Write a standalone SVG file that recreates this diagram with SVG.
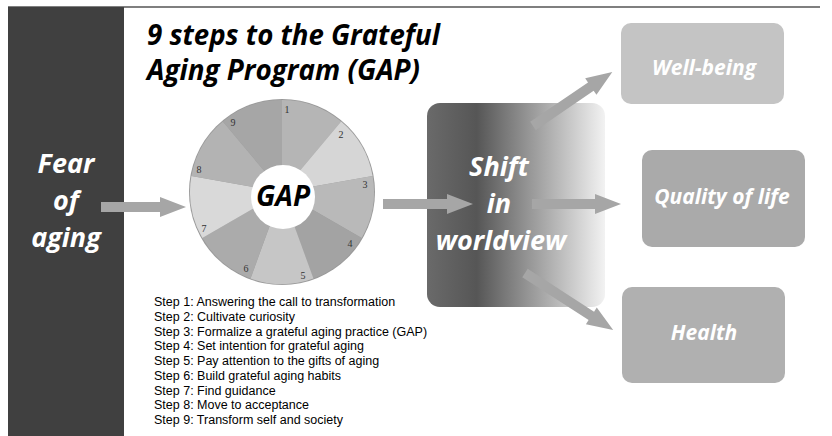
<svg xmlns="http://www.w3.org/2000/svg" width="832" height="436" viewBox="0 0 832 436">
<defs>
<linearGradient id="shiftGrad" x1="0" y1="0" x2="1" y2="0">
<stop offset="0" stop-color="#6a6a6a"/>
<stop offset="0.28" stop-color="#565656"/>
<stop offset="0.6" stop-color="#9c9c9c"/>
<stop offset="1" stop-color="#f2f2f2"/>
</linearGradient>
<style>
.big{font-family:"Open Sans","Liberation Sans",sans-serif;font-weight:bold;font-style:italic;fill:#fff;text-anchor:middle}
.title{font-family:"Open Sans","Liberation Sans",sans-serif;font-weight:bold;font-style:italic;fill:#000;font-size:28px}
.num{font-family:"Liberation Serif",serif;font-size:10px;fill:#333;text-anchor:middle}
.step{font-family:"Liberation Sans",Arial,sans-serif;font-size:12.5px;fill:#000}
.arrow{fill:#a6a6a6}
</style>
</defs>
<rect width="832" height="436" fill="#fff"/>
<line x1="8" y1="7" x2="820" y2="7" stroke="#555" stroke-width="1.5"/>

<g id="fear">
<rect x="8" y="7" width="116" height="429" fill="#404040"/>
<text class="big" font-size="27" x="66" y="173">Fear</text>
<text class="big" font-size="27" x="66" y="210">of</text>
<text class="big" font-size="27" x="66" y="247">aging</text>
</g>

<g id="title">
<text class="title" x="147" y="45" textLength="293" lengthAdjust="spacingAndGlyphs">9 steps to the Grateful</text>
<text class="title" x="147" y="80" textLength="273" lengthAdjust="spacingAndGlyphs">Aging Program (GAP)</text>
</g>

<g id="gap">
<circle cx="282" cy="192" r="93" fill="#999"/>
<path d="M282,192 L282,100 A92,92 0 0 1 341.14,121.53 Z" fill="#b5b5b5"/>
<path d="M282,192 L341.14,121.53 A92,92 0 0 1 372.6,176.03 Z" fill="#d6d6d6"/>
<path d="M282,192 L372.6,176.03 A92,92 0 0 1 361.67,238 Z" fill="#b9b9b9"/>
<path d="M282,192 L361.67,238 A92,92 0 0 1 313.47,278.45 Z" fill="#a3a3a3"/>
<path d="M282,192 L313.47,278.45 A92,92 0 0 1 250.53,278.45 Z" fill="#c6c6c6"/>
<path d="M282,192 L250.53,278.45 A92,92 0 0 1 202.33,238 Z" fill="#ababab"/>
<path d="M282,192 L202.33,238 A92,92 0 0 1 191.4,176.03 Z" fill="#d9d9d9"/>
<path d="M282,192 L191.4,176.03 A92,92 0 0 1 222.86,121.53 Z" fill="#b3b3b3"/>
<path d="M282,192 L222.86,121.53 A92,92 0 0 1 282,100 Z" fill="#a6a6a6"/>
<circle cx="283" cy="197" r="32" fill="#fff"/>
<text class="big" font-size="28" x="283" y="206" style="fill:#000">GAP</text>
<text class="num" x="287" y="113">1</text>
<text class="num" x="341" y="138">2</text>
<text class="num" x="365" y="188">3</text>
<text class="num" x="350" y="247">4</text>
<text class="num" x="303" y="279">5</text>
<text class="num" x="246" y="272">6</text>
<text class="num" x="204" y="232">7</text>
<text class="num" x="199" y="173">8</text>
<text class="num" x="233" y="126">9</text>
</g>

<g id="steps">
<text class="step" x="154" y="306">Step 1: Answering the call to transformation</text>
<text class="step" x="154" y="320.75">Step 2: Cultivate curiosity</text>
<text class="step" x="154" y="335.5">Step 3: Formalize a grateful aging practice (GAP)</text>
<text class="step" x="154" y="350.25">Step 4: Set intention for grateful aging</text>
<text class="step" x="154" y="365">Step 5: Pay attention to the gifts of aging</text>
<text class="step" x="154" y="379.75">Step 6: Build grateful aging habits</text>
<text class="step" x="154" y="394.5">Step 7: Find guidance</text>
<text class="step" x="154" y="409.25">Step 8: Move to acceptance</text>
<text class="step" x="154" y="424">Step 9: Transform self and society</text>
</g>

<g id="shift">
<rect x="427" y="103" width="178" height="204" rx="13" fill="url(#shiftGrad)"/>
<text class="big" font-size="27" x="499" y="176">Shift</text>
<text class="big" font-size="27" x="499" y="213">in</text>
<text class="big" font-size="27" x="501" y="250">worldview</text>
</g>

<g id="wellbeing">
<rect x="621" y="23" width="163" height="81" rx="10" fill="#c4c4c4"/>
<text class="big" font-size="21" x="704" y="75">Well-being</text>
</g>

<g id="quality">
<rect x="642" y="150" width="163" height="97" rx="10" fill="#aaaaaa"/>
<text class="big" font-size="21" x="722" y="204">Quality of life</text>
</g>

<g id="health">
<rect x="622" y="287" width="163" height="96" rx="10" fill="#b0b0b0"/>
<text class="big" font-size="21" x="704" y="340">Health</text>
</g>

<g id="connectors">
<polygon class="arrow" points="101,202 160,202 160,197 186,207 160,217 160,212 101,212"/>
<polygon class="arrow" points="383,199 447,199 447,194 473,204 447,214 447,209 383,209"/>
<polygon class="arrow" points="532,199 595,199 595,194 621,204 595,214 595,209 532,209"/>
<polygon class="arrow" points="0,-5 70,-5 70,-10 96,0 70,10 70,5 0,5" transform="translate(533,126) rotate(-34.3)"/>
<polygon class="arrow" points="0,-5 79,-5 79,-10 105,0 79,10 79,5 0,5" transform="translate(525,273) rotate(32.9)"/>
</g>
</svg>
